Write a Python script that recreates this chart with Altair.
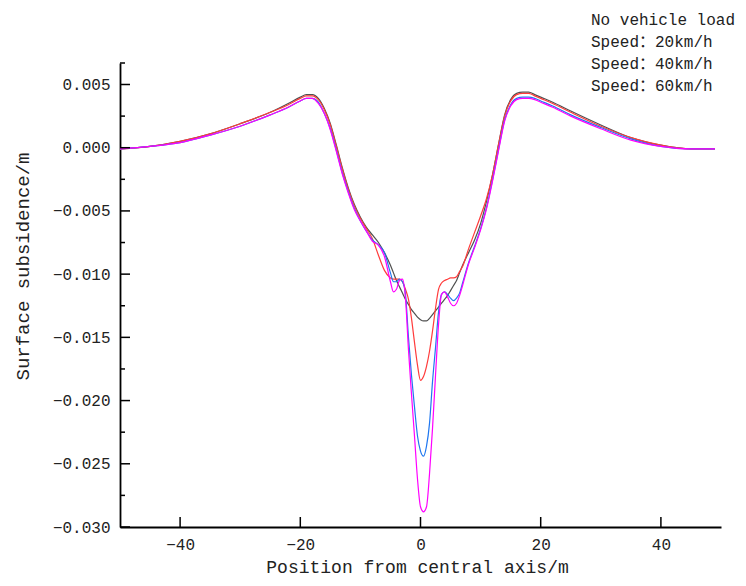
import altair as alt
import pandas as pd

# ---------------- data ----------------
x_pos = [-50, -45, -40, -35, -30, -25, -22, -20, -19, -18, -17, -16, -15, -14, -13, -12,
         -11, -10, -9, -8, -7, -6, -5, -4.5, -4, -3.5, -3, -2.5, -2, -1.5, -1, -0.5,
         0, 0.5, 1, 1.5, 2, 2.5, 3, 3.5, 4, 4.5, 5, 5.5, 6, 6.5, 7,
         8, 9, 10, 11, 12, 13, 14, 15, 16, 17, 18, 19, 20, 22, 25, 30, 35, 40, 45, 49]

no_load = [-0.0001, 0.0001, 0.0005, 0.0011, 0.0019, 0.0028, 0.0035, 0.0040, 0.0042, 0.0042,
           0.0039, 0.0031, 0.0019, 0.0002, -0.0016, -0.0032, -0.0045, -0.0055, -0.0063, -0.0069,
           -0.0075, -0.0083, -0.0093, -0.0099, -0.0105, -0.0110, -0.0115, -0.0120, -0.0124, -0.0128,
           -0.0131, -0.0134, -0.0136, -0.0137, -0.0137, -0.0135, -0.0132, -0.0129, -0.0126, -0.0123,
           -0.0120, -0.0117, -0.0113, -0.0109, -0.0105, -0.0099, -0.0093,
           -0.0083, -0.0073, -0.0060, -0.0042, -0.0021, 0.0003, 0.0026, 0.0038, 0.0043, 0.0044,
           0.0044, 0.0042, 0.0040, 0.0036, 0.0029, 0.0018, 0.0008, 0.0002, -0.0001, -0.0001]

speed20 = [-0.0001, 0.0001, 0.0005, 0.0011, 0.0019, 0.0028, 0.0034, 0.0039, 0.0041, 0.0041,
           0.0038, 0.0030, 0.0018, 0.0001, -0.0017, -0.0033, -0.0046, -0.0056, -0.0064, -0.0072,
           -0.0085, -0.0097, -0.0103, -0.0104, -0.0104, -0.0104, -0.0106, -0.0112, -0.0120, -0.0135,
           -0.0154, -0.0172, -0.0184, -0.0181, -0.0173, -0.0161, -0.0145, -0.0127, -0.0112, -0.0107,
           -0.0105, -0.0104, -0.0103, -0.0103, -0.0102, -0.0098, -0.0094,
           -0.0080, -0.0067, -0.0054, -0.0040, -0.0021, 0.0003, 0.0025, 0.0037, 0.0042, 0.0043,
           0.0043, 0.0041, 0.0039, 0.0035, 0.0028, 0.0017, 0.0008, 0.0002, -0.0001, -0.0001]

speed40 = [-0.0001, 0.0001, 0.0004, 0.0010, 0.0017, 0.0026, 0.0032, 0.0037, 0.0039, 0.0039,
           0.0036, 0.0027, 0.0015, -0.0002, -0.0020, -0.0035, -0.0048, -0.0058, -0.0066, -0.0073,
           -0.0077, -0.0083, -0.0099, -0.0106, -0.0106, -0.0104, -0.0106, -0.0116, -0.0150, -0.0180,
           -0.0205, -0.0228, -0.0240, -0.0244, -0.0236, -0.0218, -0.0185, -0.0158, -0.0130, -0.0116,
           -0.0114, -0.0116, -0.0119, -0.0121, -0.0119, -0.0115, -0.0107,
           -0.0091, -0.0078, -0.0064, -0.0047, -0.0025, -0.0001, 0.0022, 0.0034, 0.0039, 0.0040,
           0.0040, 0.0039, 0.0037, 0.0033, 0.0026, 0.0016, 0.0007, 0.0001, -0.0001, -0.0001]

speed60 = [-0.0001, 0.0001, 0.0004, 0.0010, 0.0017, 0.0026, 0.0032, 0.0037, 0.0039, 0.0039,
           0.0035, 0.0027, 0.0014, -0.0003, -0.0021, -0.0036, -0.0049, -0.0058, -0.0066, -0.0074,
           -0.0077, -0.0086, -0.0106, -0.0114, -0.0112, -0.0105, -0.0104, -0.0119, -0.0160, -0.0195,
           -0.0228, -0.0262, -0.0284, -0.0288, -0.0284, -0.0258, -0.0222, -0.0180, -0.0140, -0.0116,
           -0.0114, -0.0118, -0.0123, -0.0125, -0.0123, -0.0117, -0.0109,
           -0.0092, -0.0079, -0.0065, -0.0048, -0.0026, -0.0002, 0.0021, 0.0033, 0.0038, 0.0039,
           0.0039, 0.0038, 0.0036, 0.0032, 0.0025, 0.0015, 0.0006, 0.0001, -0.0001, -0.0001]

series_names = ["No vehicle load", "Speed：20km/h", "Speed：40km/h", "Speed：60km/h"]
series_colors = ["#505050", "#ff3b3b", "#1f77f0", "#ff00ff"]

x_ticks = [-40, -20, 0, 20, 40]
y_major = [-0.030, -0.025, -0.020, -0.015, -0.010, -0.005, 0.000, 0.005]
y_minor = [-0.0275, -0.0225, -0.0175, -0.0125, -0.0075, -0.0025, 0.0025, 0.0067]

x_domain = [-50, 50]
y_domain = [-0.030, 0.0067]

# ---------------- build ----------------
rows = []
for name, vals in zip(series_names, [no_load, speed20, speed40, speed60]):
    for i, (xv, yv) in enumerate(zip(x_pos, vals)):
        rows.append({"x": xv, "y": yv, "series": name, "order": i})
df = pd.DataFrame(rows)

FONT = "'Liberation Mono', 'Noto Sans CJK SC', monospace"
W, H = 601, 464
xscale = alt.Scale(domain=x_domain, nice=False, zero=False)
yscale = alt.Scale(domain=y_domain, nice=False, zero=False)

lines = alt.Chart(df).mark_line(strokeWidth=1.2, interpolate="monotone").encode(
    x=alt.X("x:Q", scale=xscale,
            axis=alt.Axis(values=x_ticks, ticks=False, grid=False, format="d",
                          title="Position from central axis/m", labelPadding=9,
                          titleX=297, titleY=40, titleBaseline="middle", titleAlign="center",
                          titleFontSize=18)),
    y=alt.Y("y:Q", scale=yscale,
            axis=alt.Axis(values=y_major, ticks=False, grid=False, format=".3f",
                          title="Surface subsidence/m", labelPadding=10,
                          titleX=-98, titleY=203, titleBaseline="middle", titleAlign="center")),
    color=alt.Color("series:N", sort=series_names,
                    scale=alt.Scale(domain=series_names, range=series_colors),
                    legend=alt.Legend(orient="none", legendX=455, legendY=-51, title=None,
                                      symbolSize=0, symbolStrokeWidth=0, symbolOpacity=0,
                                      labelOffset=0, labelFont=FONT, labelFontSize=16,
                                      labelColor="#222222", rowPadding=6, labelLimit=400)),
    order="order:Q",
)

xt = alt.Chart(pd.DataFrame({"v": x_ticks})).mark_rule(color="black", strokeWidth=1.5).encode(
    x=alt.X("v:Q", scale=xscale), y=alt.value(H), y2=alt.value(H - 10))
ymaj = alt.Chart(pd.DataFrame({"v": y_major})).mark_rule(color="black", strokeWidth=1.5).encode(
    y=alt.Y("v:Q", scale=yscale), x=alt.value(0), x2=alt.value(10))
ymin = alt.Chart(pd.DataFrame({"v": y_minor})).mark_rule(color="black", strokeWidth=1.5).encode(
    y=alt.Y("v:Q", scale=yscale), x=alt.value(0), x2=alt.value(5))

chart = alt.layer(lines, xt, ymaj, ymin).properties(
    width=W, height=H,
    autosize=alt.AutoSizeParams(type="none"),
    padding={"left": 112, "top": 55, "right": 17, "bottom": 51},
    background="white",
).configure_view(stroke=None).configure_axis(
    domainColor="black", domainWidth=1.8,
    labelFont=FONT, labelFontSize=16, labelColor="#222222",
    titleFont=FONT, titleFontSize=19, titleFontWeight="normal", titleColor="#222222",
)

chart.save("out.html", embed_options={"renderer": "svg", "actions": False})
